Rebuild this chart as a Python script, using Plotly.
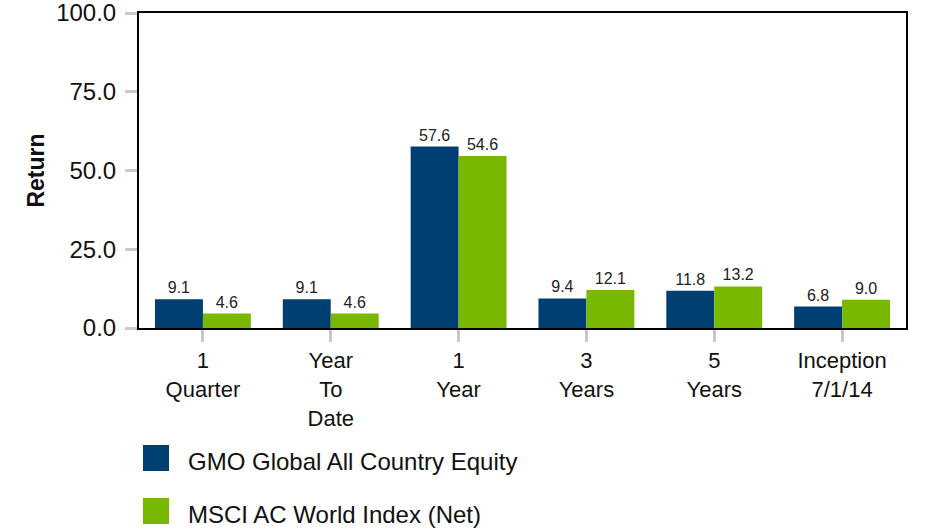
import plotly.graph_objects as go

categories = ["1<br>Quarter", "Year<br>To<br>Date", "1<br>Year", "3<br>Years", "5<br>Years", "Inception<br>7/1/14"]
gmo_values = [9.1, 9.1, 57.6, 9.4, 11.8, 6.8]
msci_values = [4.6, 4.6, 54.6, 12.1, 13.2, 9.0]
series_names = ["GMO Global All Country Equity", "MSCI AC World Index (Net)"]
y_ticks = [0, 25, 50, 75, 100]
y_tick_labels = ["0.0", "25.0", "50.0", "75.0", "100.0"]

BLUE = "#003F72"
GREEN = "#78B800"
FONT = "Liberation Sans, Arial, sans-serif"

W, H = 951, 530
ML, MT = 139, 13
PW, PH = 767, 315
MR, MB = W - ML - PW, H - MT - PH

def px_x(x):
    return (x - ML) / PW

def px_y(y):
    return (MT + PH - y) / PH

fig = go.Figure()
for name, vals, col in [(series_names[0], gmo_values, BLUE), (series_names[1], msci_values, GREEN)]:
    fig.add_trace(go.Bar(
        x=categories, y=vals, name=name, marker=dict(color=col, line=dict(width=0)),
        text=[f"{v:.1f}" for v in vals], textposition="outside",
        textfont=dict(family=FONT, size=16, color="#222222"),
        cliponaxis=False, showlegend=False,
    ))

shapes = []
annotations = []
legend_rows = [(445, 471, 461, BLUE, series_names[0]), (498, 524, 514, GREEN, series_names[1])]
for y0, y1, ty, col, name in legend_rows:
    shapes.append(dict(type="rect", xref="paper", yref="paper",
                       x0=px_x(143), x1=px_x(169), y0=px_y(y1), y1=px_y(y0),
                       fillcolor=col, line=dict(width=0)))
    annotations.append(dict(xref="paper", yref="paper", x=px_x(186), y=px_y(ty),
                            xanchor="left", yanchor="middle", showarrow=False, text=name,
                            font=dict(family=FONT, size=24, color="#111111")))

fig.update_layout(
    width=W, height=H,
    margin=dict(l=ML, r=MR, t=MT, b=MB),
    paper_bgcolor="white", plot_bgcolor="white",
    barmode="group", bargap=0.25, bargroupgap=0,
    font=dict(family=FONT, color="#111111"),
    shapes=shapes, annotations=annotations,
    showlegend=False,
)
fig.update_xaxes(
    automargin=False,
    showline=True, linecolor="black", linewidth=2, mirror=True,
    ticks="outside", ticklen=12, tickwidth=3, tickcolor="#C8CBCE",
    tickfont=dict(family=FONT, size=22, color="#111111"),
    showgrid=False, zeroline=False,
)
fig.update_yaxes(
    automargin=False,
    range=[0, 100], tickvals=y_ticks, ticktext=y_tick_labels,
    showline=True, linecolor="black", linewidth=2, mirror=True,
    ticks="outside", ticklen=12, tickwidth=3, tickcolor="#C8CBCE",
    ticklabelstandoff=4, ticklabeloverflow="allow",
    tickfont=dict(family=FONT, size=24, color="#111111"),
    showgrid=False, zeroline=False,
    title=dict(text="<b>Return</b>", font=dict(family=FONT, size=23, color="#111111"), standoff=5),
)

fig.write_html("out.html", config={"displayModeBar": False},
               post_script="document.body.style.margin='0';")
